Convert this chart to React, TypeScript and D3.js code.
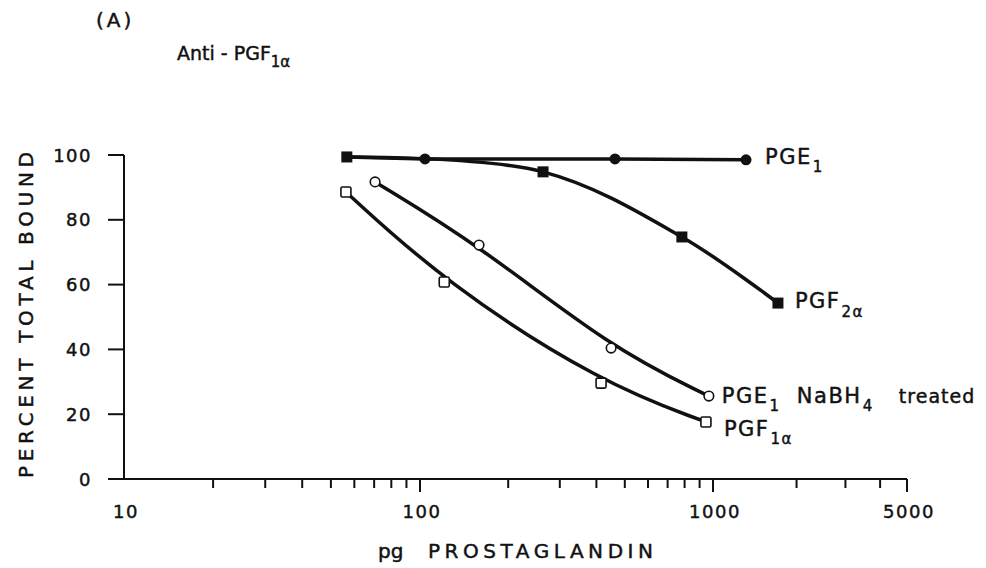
import React from "react";
import * as d3 from "d3";

// Dose of prostaglandin (pg) and percent of total antibody binding
const pge1Dose = [104, 463, 1315];
const pge1Bound = [98.8, 98.8, 98.5];

const pgf2aDose = [56.6, 263, 783, 1714];
const pgf2aBound = [99.4, 94.8, 74.7, 54.3];

const nabh4Dose = [70.5, 159, 449, 968];
const nabh4Bound = [91.7, 72.2, 40.4, 25.6];

const pgf1aDose = [56.2, 121, 415, 946];
const pgf1aBound = [88.6, 60.8, 29.6, 17.6];

const xTickLabels = [10, 100, 1000, 5000];
const yTickValues = [0, 20, 40, 60, 80, 100];

const W = 986;
const H = 568;
const FONT = "'DejaVu Sans', 'Liberation Sans', sans-serif";

type Pt = { d: number; b: number };
const zip = (ds: number[], bs: number[]): Pt[] => ds.map((d, i) => ({ d, b: bs[i] }));

export default function App() {
  // hand-ruled log axis: decades are not of exactly equal length
  const x = d3.scaleLog().domain([10, 100, 1000, 5000]).range([124, 420, 713, 907]);
  const y = d3.scaleLinear().domain([0, 100]).range([479, 155]);

  const pge1 = zip(pge1Dose, pge1Bound);
  const pgf2a = zip(pgf2aDose, pgf2aBound);
  const nabh4 = zip(nabh4Dose, nabh4Bound);
  const pgf1a = zip(pgf1aDose, pgf1aBound);

  const basis = d3.line<Pt>().x((p) => x(p.d)).y((p) => y(p.b)).curve(d3.curveBasis);
  const smooth = d3.line<Pt>().x((p) => x(p.d)).y((p) => y(p.b)).curve(d3.curveCatmullRom.alpha(0.5));
  const straight = d3.line<Pt>().x((p) => x(p.d)).y((p) => y(p.b));

  // PGE1 line runs from the shared low-dose point
  const pge1Line = [pgf2a[0], ...pge1];

  const minorTicks = x.ticks();
  const ink = "#111";
  const textInk = { fill: ink, stroke: ink, strokeWidth: 0.45 };

  const last = (s: Pt[]) => s[s.length - 1];
  const nb = last(nabh4);
  const nbX = x(nb.d);
  const nbY = y(nb.b);

  return (
    <svg
      width={W}
      height={H}
      viewBox={`0 0 ${W} ${H}`}
      style={{ position: "absolute", left: 0, top: 0, background: "#fff" }}
      fontFamily={FONT}
    >
      <rect x={0} y={0} width={W} height={H} fill="#fff" />

      {/* panel heading */}
      <text x={96} y={27} fontSize={20} letterSpacing={3} {...textInk}>(A)</text>
      <text x={177} y={60} fontSize={19} {...textInk}>
        Anti - PGF
        <tspan fontSize={15} dy={7}>1α</tspan>
      </text>

      {/* axes */}
      <line x1={124} y1={y(100)} x2={124} y2={y(0)} stroke={ink} strokeWidth={2} />
      <line x1={110} y1={y(0)} x2={x(5000)} y2={y(0)} stroke={ink} strokeWidth={2} />

      {yTickValues.map((v) => (
        <g key={"y" + v}>
          <line x1={108} x2={124} y1={y(v)} y2={y(v)} stroke={ink} strokeWidth={2} />
          <text x={92} y={y(v) + 6.5} fontSize={18} textAnchor="end" letterSpacing={1.5} {...textInk}>
            {v}
          </text>
        </g>
      ))}

      {minorTicks.map((t) => {
        const major = xTickLabels.includes(t);
        if (t === 10) return null;
        return (
          <line
            key={"xt" + t}
            x1={x(t)}
            x2={x(t)}
            y1={y(0)}
            y2={y(0) + (major ? 13 : 9)}
            stroke={ink}
            strokeWidth={2}
          />
        );
      })}
      {xTickLabels.map((t) => (
        <text key={"xl" + t} x={x(t) + 2} y={518} fontSize={18} textAnchor="middle" letterSpacing={1.5} {...textInk}>
          {t}
        </text>
      ))}

      <text x={378} y={558} fontSize={20} {...textInk}>
        pg
        <tspan x={428} textLength={225} lengthAdjust="spacing">PROSTAGLANDIN</tspan>
      </text>
      <text
        transform="translate(33,478) rotate(-90)"
        fontSize={20}
        textLength={326}
        lengthAdjust="spacing"
        {...textInk}
      >
        PERCENT TOTAL BOUND
      </text>

      {/* curves */}
      <g fill="none" stroke={ink} strokeWidth={3.5} strokeLinecap="round">
        <path d={straight(pge1Line) || ""} />
        <path d={smooth(pgf2a) || ""} />
        <path d={basis(nabh4) || ""} />
        <path d={basis(pgf1a) || ""} />
      </g>

      {/* markers */}
      {pge1.map((p, i) => (
        <circle key={"c" + i} cx={x(p.d)} cy={y(p.b)} r={5.5} fill={ink} />
      ))}
      {pgf2a.map((p, i) => (
        <rect key={"s" + i} x={x(p.d) - 5.5} y={y(p.b) - 5.5} width={11} height={11} fill={ink} />
      ))}
      {nabh4.map((p, i) => (
        <circle key={"o" + i} cx={x(p.d)} cy={y(p.b)} r={4.8} fill="#fff" stroke={ink} strokeWidth={1.6} />
      ))}
      {pgf1a.map((p, i) => (
        <rect
          key={"q" + i}
          x={x(p.d) - 5}
          y={y(p.b) - 5}
          width={10}
          height={10}
          rx={1.5}
          fill="#fff"
          stroke={ink}
          strokeWidth={1.6}
        />
      ))}

      {/* curve labels */}
      <text x={x(last(pge1).d) + 19} y={y(last(pge1).b) + 4} fontSize={21} letterSpacing={1.5} {...textInk}>
        PGE<tspan fontSize={15} dy={8} dx={1}>1</tspan>
      </text>
      <text x={x(last(pgf2a).d) + 17} y={y(last(pgf2a).b) + 5} fontSize={21} letterSpacing={1.5} {...textInk}>
        PGF<tspan fontSize={15} dy={9} dx={1}>2α</tspan>
      </text>
      <text y={nbY + 7} fontSize={21} letterSpacing={1.5} {...textInk}>
        <tspan x={nbX + 13}>PGE</tspan>
        <tspan dy={8} dx={1} fontSize={15}>1</tspan>
        <tspan x={nbX + 88} dy={-8}>NaBH</tspan>
        <tspan dy={8} dx={1} fontSize={15}>4</tspan>
        <tspan x={nbX + 190} dy={-8} fontSize={19} letterSpacing={1}>treated</tspan>
      </text>
      <text x={x(last(pgf1a).d) + 18} y={y(last(pgf1a).b) + 14} fontSize={21} letterSpacing={1.5} {...textInk}>
        PGF<tspan fontSize={15} dy={8} dx={1}>1α</tspan>
      </text>
    </svg>
  );
}
